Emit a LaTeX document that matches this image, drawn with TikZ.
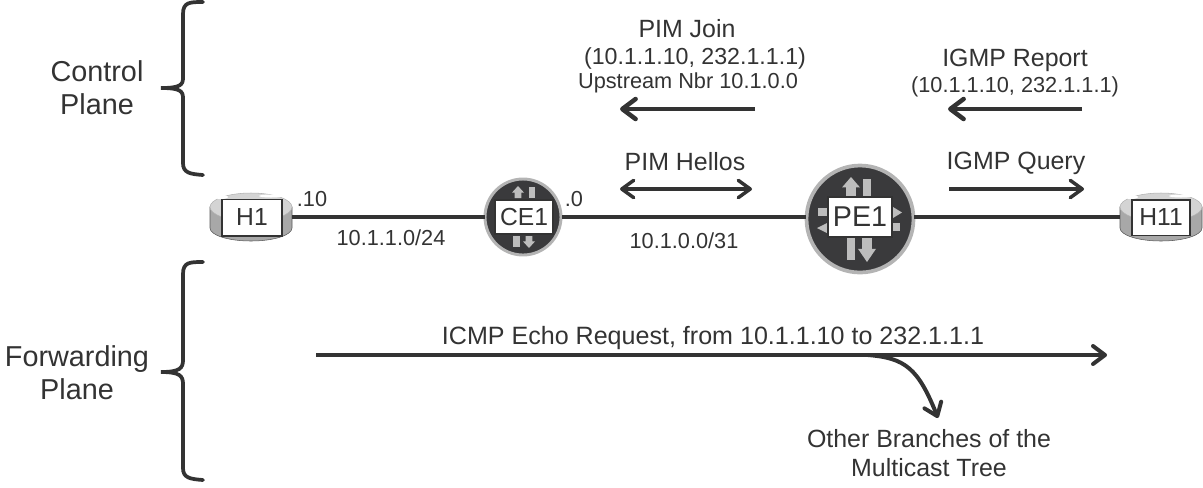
\documentclass[tikz,border=0pt]{standalone}
\usepackage{fontspec}
\setmainfont{Liberation Sans}
\usetikzlibrary{arrows.meta,calc}
\definecolor{ink}{HTML}{333333}
\definecolor{routerdark}{HTML}{3A3A3C}
\definecolor{rim}{HTML}{B4B4B4}
\definecolor{glyph}{HTML}{BDBDBD}
\definecolor{hostside}{HTML}{A8A8A8}
\definecolor{hosttop}{HTML}{D4D4D4}
\newcommand{\fs}[2]{\fontsize{#1}{#2}\selectfont}
\tikzset{
  every node/.style={text=ink,inner sep=0pt,outer sep=0pt,align=center},
  label big/.style={font=\fs{21.6}{25}},
  label mid/.style={font=\fs{18.7}{22}},
  label small/.style={font=\fs{16.3}{18}},
  link/.style={draw=ink,line width=2.6pt},
  heavy/.style={draw=ink,line width=3.6pt,-{Straight Barb[round,length=10pt,width=15pt,line width=3.4pt]}},
  medium/.style={draw=ink,line width=2.5pt,-{Straight Barb[round,length=9pt,width=13pt,line width=2.6pt]}},
  long/.style={draw=ink,line width=2.6pt,-{Straight Barb[round,length=9pt,width=13.5pt,line width=3pt]}},
  both/.style={draw=ink,line width=2.5pt,{Straight Barb[round,length=9pt,width=13pt,line width=2.6pt]}-{Straight Barb[round,length=9pt,width=13pt,line width=2.6pt]}},
  brace/.style={draw=ink,line width=2.8pt,line cap=round,fill=none},
  namebox/.style={draw=ink,fill=white,line width=1pt,font=\fs{18.5}{22},minimum height=#1},
  namebox/.default=27pt,
}
% host disc: a short cylinder with a label box in front
\newcommand{\hostdisc}[2]{%
  \fill[hostside,draw=gray!70!black,line width=.4pt] (#1-41,#2-10) -- (#1-41,#2+11) arc[x radius=41,y radius=13,start angle=180,end angle=0] -- (#1+41,#2-10) -- cycle;
  \fill[hosttop,draw=gray!60,line width=.4pt] (#1,#2-10) ellipse[x radius=41,y radius=14];
  \fill[white] (#1-30,#2-20) ellipse[x radius=7,y radius=2];
  \fill[white] (#1+20,#2-21) ellipse[x radius=12,y radius=1.5];
}
% router glyph: a vertical arrow from a base line, of signed length
\newcommand{\vertglyph}[4]{% x, y-base, length, half head width
  \fill[glyph] (#1-#4*0.55,#2) -- (#1-#4*0.55,#2+#3*0.45) -- (#1-#4,#2+#3*0.45) -- (#1,#2+#3) -- (#1+#4,#2+#3*0.45) -- (#1+#4*0.55,#2+#3*0.45) -- (#1+#4*0.55,#2) -- cycle;
}
\begin{document}
\begin{tikzpicture}[x=0.75pt,y=-0.75pt]
\useasboundingbox (0,0) rectangle (1203,487);

% braces
\draw[brace] (203,2) .. controls (190,2) and (183,2) .. (183,14) -- (183,78)
  .. controls (183,85) and (180,88) .. (161,88)
  .. controls (180,88) and (183,91) .. (183,98) -- (183,163)
  .. controls (183,173) and (190,174) .. (203,175);
\draw[brace] (203,262) .. controls (190,262) and (183,262) .. (183,274) -- (183,360)
  .. controls (183,368) and (180,372) .. (161,372)
  .. controls (180,372) and (183,376) .. (183,384) -- (183,468)
  .. controls (183,478) and (190,479) .. (203,480);

% hosts
\hostdisc{251}{217}
\hostdisc{1161}{217}
\node[namebox=27.5pt,minimum width=45pt] (h1) at (252,217.5) {H1};
\node[namebox=26.5pt,minimum width=43.5pt] (h11) at (1161,217.5) {H11};

% routers
\fill[routerdark,draw=rim,line width=2.2pt] (523,217) circle[radius=38];
\fill[routerdark,draw=rim,line width=2.8pt] (860,219) circle[radius=53.5];
% CE1 arrows
\vertglyph{518}{198}{-12}{6}
\fill[glyph] (529,187) rectangle (535,198);
\fill[glyph] (513,236) rectangle (520,247);
\vertglyph{529}{236}{12}{6}
% PE1 arrows
\vertglyph{851}{196}{-19}{9}
\fill[glyph] (863,179) rectangle (871,196);
\fill[glyph] (847,238) rectangle (855,260);
\vertglyph{867}{238}{24}{9}
\fill[glyph] (818,208) rectangle (827,216);
\fill[glyph] (893,223) rectangle (900,231);
\fill[glyph] (827,223) -- (817,228) -- (827,233) -- cycle;
\fill[glyph] (893,207) -- (902,212.5) -- (893,218) -- cycle;
\node[namebox=25.5pt,minimum width=43.5pt] (ce1) at (524,217) {CE1};
\node[namebox=30pt,minimum width=48pt,font=\fs{21.5}{25}] (pe1) at (860,217) {PE1};
\coordinate (ce1w) at (485,217); \coordinate (ce1e) at (562,217);
\coordinate (pe1w) at (806,217); \coordinate (pe1e) at (914,217);
\coordinate (h1e) at (292,217); \coordinate (h11w) at (1120,217);

% links
\draw[link] (h1e) -- (ce1w);
\draw[link] (ce1e) -- (pe1w);
\draw[link] (pe1e) -- (h11w);

% side labels
\node[label big] (ctl) at (97,87.5) {Control\\Plane};
\node[label big] (fwd) at (77,372.5) {Forwarding\\Plane};

% address labels
\node[label small] (a1) at (312,199) {.10};
\node[label small] (a2) at (574,199) {.0};
\node[label small] (n1) at (391,238) {10.1.1.0/24};
\node[label small] (n2) at (684,241) {10.1.0.0/31};

% control-plane messages
\coordinate (joinS) at (755,109); \coordinate (joinE) at (620,109);
\coordinate (repS) at (1082,109); \coordinate (repE) at (948,109);
\coordinate (heloW) at (620,189); \coordinate (heloE) at (752,189);
\coordinate (qryS) at (949,189); \coordinate (qryE) at (1084,189);
\draw[heavy] (joinS) -- (joinE);
\draw[heavy] (repS) -- (repE);
\draw[both] (heloW) -- (heloE);
\draw[medium] (qryS) -- (qryE);

\node[label mid] (pj) at (687,29) {PIM Join};
\node[label small,font=\fs{17.4}{20}] (pj1) at (695,58) {(10.1.1.10, 232.1.1.1)};
\node[label small] (pj2) at (688,83) {Upstream Nbr 10.1.0.0};
\node[label mid] (ir) at (1015,60) {IGMP Report};
\node[label small] (ir1) at (1015,87) {(10.1.1.10, 232.1.1.1)};
\node[label mid] (ph) at (685,162) {PIM Hellos};
\node[label mid] (iq) at (1016,163) {IGMP Query};

% forwarding plane
\coordinate (fS) at (316,355); \coordinate (fE) at (1107,355);
\coordinate (bS) at (868,355); \coordinate (bE) at (938,418);
\draw[long] (fS) -- (fE);
\draw[long,line width=3pt] (bS) .. controls (905,358) and (918,368) .. (bE);
\node[label mid,font=\fs{18.8}{22}] (ic) at (713,338) {ICMP Echo Request, from 10.1.1.10 to 232.1.1.1};
\node[label mid,font=\fs{18.7}{22}] (ob) at (929,453) {Other Branches of the\\Multicast Tree};
\end{tikzpicture}
\end{document}
